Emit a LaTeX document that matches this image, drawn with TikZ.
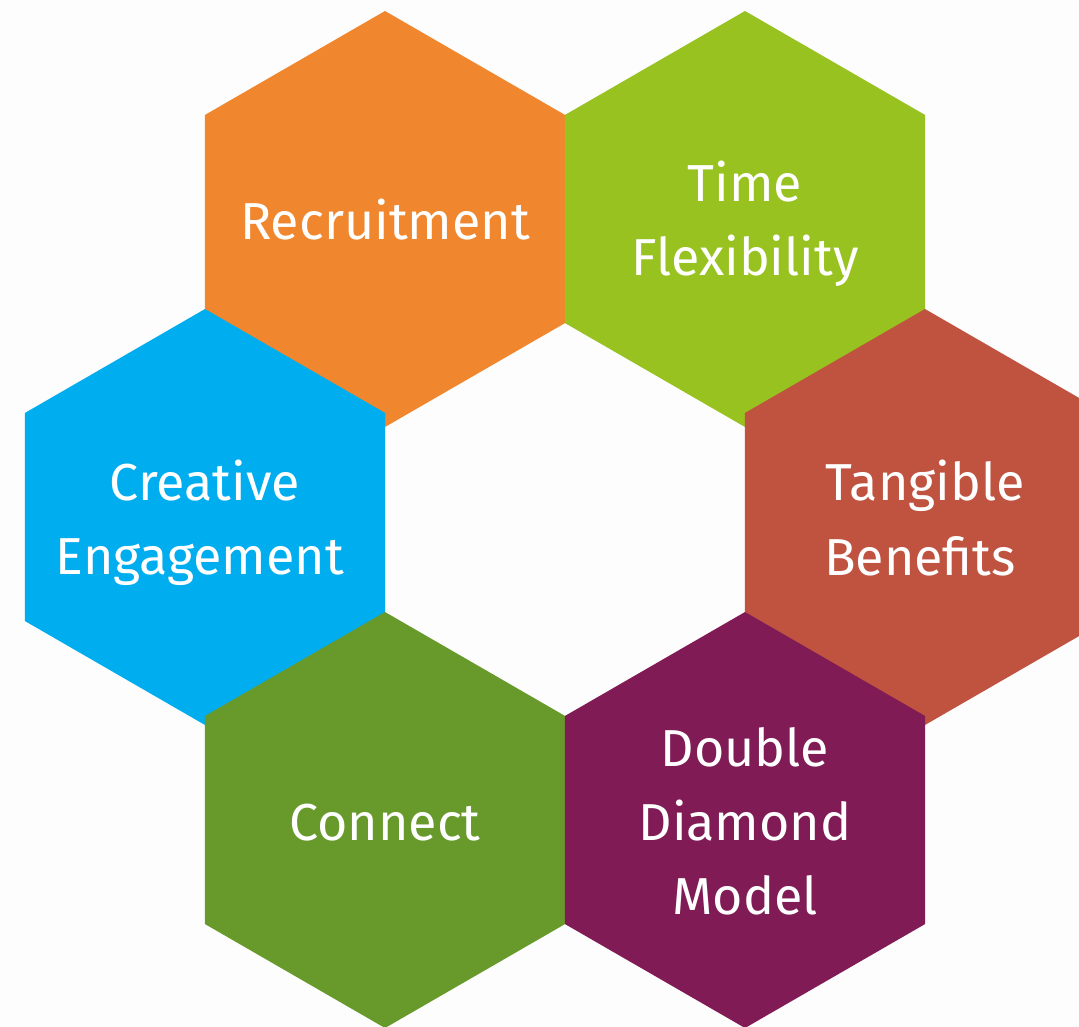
\documentclass[tikz,border=0pt]{standalone}
\usepackage{fontspec}
\setmainfont{Fira Sans}
\usetikzlibrary{shapes.geometric}
\definecolor{cOrange}{HTML}{F0862D}
\definecolor{cLime}{HTML}{97C21F}
\definecolor{cBlue}{HTML}{00AEEF}
\definecolor{cRed}{HTML}{C05340}
\definecolor{cPurple}{HTML}{801B55}
\definecolor{cDkGreen}{HTML}{67992B}
\definecolor{cBg}{HTML}{FDFDFD}
\tikzset{
  hexa/.style={regular polygon, regular polygon sides=6, shape border rotate=30,
    minimum size=416pt, inner sep=0pt, outer sep=0pt, draw=none, fill=#1},
  lbl/.style={text=white, anchor=base, inner sep=0pt,
    font=\fontsize{52}{70}\selectfont}
}
\begin{document}
\begin{tikzpicture}[x=1pt,y=-1pt]
\useasboundingbox (0,0) rectangle (1079,1027);
\fill[cBg] (0,0) rectangle (1079,1027);
\clip (0,0) rectangle (1079,1027);
\node[hexa=cOrange] (hRec) at (385,219) {};
\node[hexa=cLime] (hTime) at (745,219) {};
\node[hexa=cBlue] (hCre) at (205,517) {};
\node[hexa=cRed] (hTan) at (925,517) {};
\node[hexa=cDkGreen] (hCon) at (385,820) {};
\node[hexa=cPurple] (hDou) at (745,820) {};
\node[lbl] (tRec) at (385,240) {Recruitment};
\node[lbl] (tTime1) at (745,202) {Time};
\node[lbl] (tTime2) at (745,275) {Flexibility};
\node[lbl] (tCre1) at (205,500) {Creative};
\node[lbl] (tCre2) at (200,574) {Engagement};
\node[lbl] (tTan1) at (925,500) {Tangible};
\node[lbl] (tTan2) at (920,575) {Benefits};
\node[lbl] (tCon) at (385,840) {Connect};
\node[lbl] (tDou1) at (745,766) {Double};
\node[lbl] (tDou2) at (745,840) {Diamond};
\node[lbl] (tDou3) at (745,914) {Model};
\end{tikzpicture}
\end{document}
